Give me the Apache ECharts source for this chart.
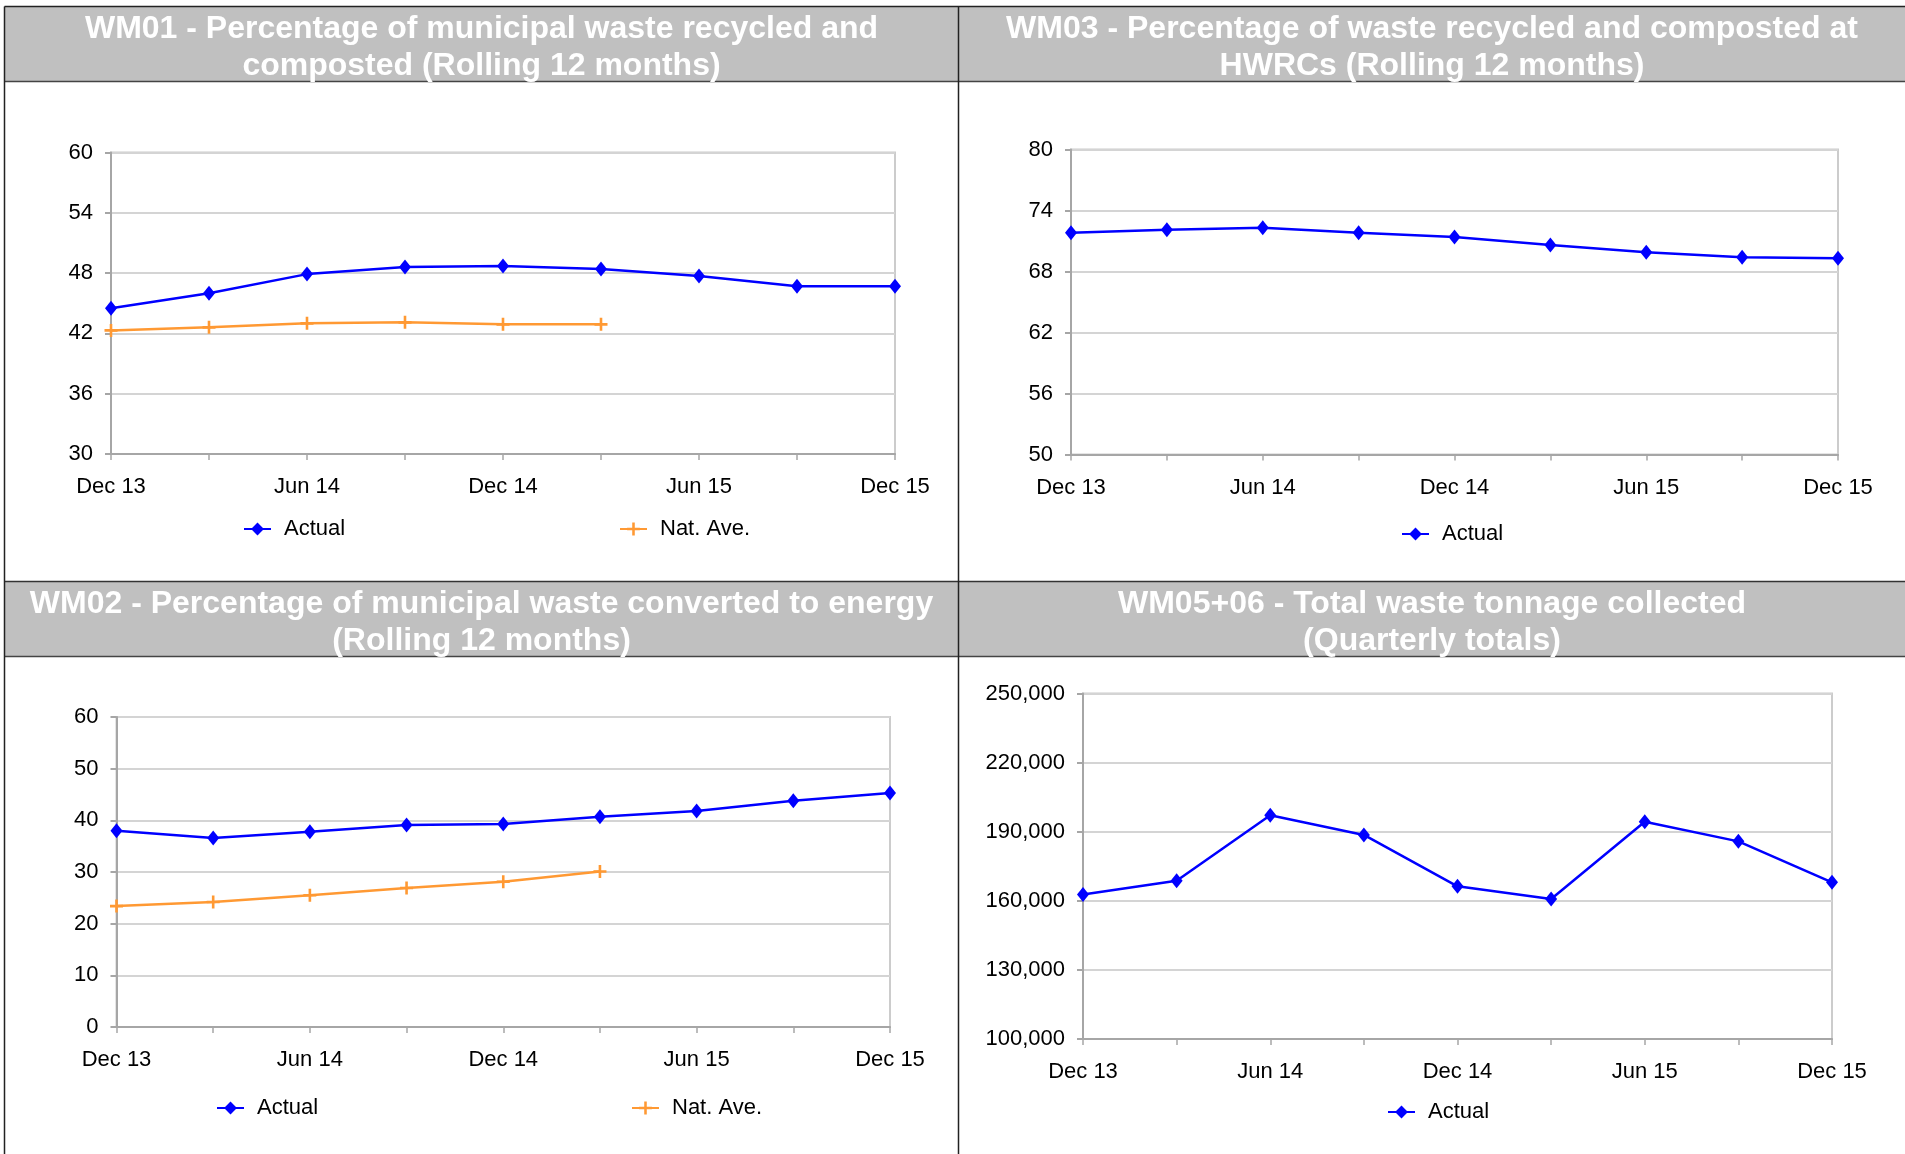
<!DOCTYPE html>
<html>
<head>
<meta charset="utf-8">
<title>Waste performance indicators</title>
<script src="https://cdn.jsdelivr.net/npm/echarts@6/dist/echarts.min.js"></script>
<style>
  html, body { margin: 0; padding: 0; background: #fff; }
  #main { width: 1905px; height: 1154px; }
</style>
</head>
<body>
<div id="main"></div>
<script>
// quarters - only every other one gets printed on the axis
var quarters = ['Dec 13', 'Mar 14', 'Jun 14', 'Sep 14', 'Dec 14', 'Mar 15', 'Jun 15', 'Sep 15', 'Dec 15'];

// WM01 - % recycled and composted (rolling 12 months)
var wm01Actual = [44.5, 46.0, 47.9, 48.6, 48.7, 48.4, 47.7, 46.7, 46.7];
var wm01NatAve = [42.3, 42.6, 43.0, 43.1, 42.9, 42.9];

// WM03 - % recycled and composted at HWRCs
var wm03Actual = [71.8, 72.1, 72.3, 71.8, 71.4, 70.6, 69.9, 69.4, 69.3];

// WM02 - % converted to energy
var wm02Actual = [38.0, 36.6, 37.8, 39.1, 39.3, 40.7, 41.8, 43.8, 45.3];
var wm02NatAve = [23.4, 24.2, 25.5, 26.9, 28.1, 30.1];

// WM05+06 - total tonnage, quarterly
var wm0506Actual = [162700, 168700, 197100, 188600, 166300, 160800, 194300, 185800, 168000];

// y axis ranges [min, max, step]
var wm01Range = [30, 60, 6];
var wm03Range = [50, 80, 6];
var wm02Range = [0, 60, 10];
var wm0506Range = [100000, 250000, 30000];

var FONT = '"Liberation Sans", Arial, sans-serif';
var BLUE = '#0000ff';
var ORANGE = '#ff9933';
var PLUS = 'path://M4,0h2v4h4v2h-4v4h-2v-4h-4v-2h4z';

var chart = echarts.init(document.getElementById('main'));

function makeX(idx) {
  return {
    type: 'category',
    gridIndex: idx,
    data: quarters,
    boundaryGap: false,
    axisLine: { show: true, lineStyle: { color: '#a6a6a6', width: 2 } },
    axisTick: { show: true, interval: 0, length: 6, lineStyle: { color: '#a6a6a6', width: 1.5 } },
    axisLabel: { interval: 1, margin: 22, fontSize: 22, color: '#000', fontFamily: FONT },
    splitLine: { show: false }
  };
}

function makeY(idx, range, fmt) {
  return {
    type: 'value',
    gridIndex: idx,
    min: range[0],
    max: range[1],
    interval: range[2],
    axisLine: { show: true, lineStyle: { color: '#a6a6a6', width: 2 } },
    axisTick: { show: true, length: 6, lineStyle: { color: '#a6a6a6', width: 2 } },
    axisLabel: { margin: 18, fontSize: 22, color: '#000', fontFamily: FONT, formatter: fmt },
    splitLine: { show: true, lineStyle: { color: '#d4d4d4', width: 2 } }
  };
}

function actualLine(idx, data) {
  return {
    name: 'Actual',
    type: 'line',
    xAxisIndex: idx,
    yAxisIndex: idx,
    data: data,
    symbol: 'diamond',
    symbolSize: [12, 15],
    showAllSymbol: true,
    lineStyle: { color: BLUE, width: 2.5 },
    itemStyle: { color: BLUE },
    z: 3
  };
}

function natLine(idx, data) {
  return {
    name: 'Nat. Ave.',
    type: 'line',
    xAxisIndex: idx,
    yAxisIndex: idx,
    data: data,
    symbol: PLUS,
    symbolSize: [13, 13],
    showAllSymbol: true,
    lineStyle: { color: ORANGE, width: 2.5 },
    itemStyle: { color: ORANGE },
    z: 2
  };
}

function legendAt(left, top, name) {
  return {
    left: left,
    top: top,
    padding: 0,
    data: [name],
    itemWidth: 27,
    itemHeight: 16,
    textStyle: { fontSize: 22, color: '#000', fontFamily: FONT, padding: [0, 0, 0, 8] }
  };
}

function thousands(v) {
  return String(v).replace(/\B(?=(\d{3})+(?!\d))/g, ',');
}

// panel frame, grey header bars
function headerText(x, y, txt) {
  return {
    type: 'text',
    x: x,
    y: y,
    z: 10,
    style: {
      text: txt,
      align: 'center',
      verticalAlign: 'middle',
      fill: '#fff',
      font: 'bold 32px ' + FONT,
      lineHeight: 37
    }
  };
}

var frame = [
  { type: 'rect', shape: { x: 4.5, y: 6.5, width: 1905, height: 75 }, style: { fill: '#c0c0c0' } },
  { type: 'rect', shape: { x: 4.5, y: 581.5, width: 1905, height: 75 }, style: { fill: '#c0c0c0' } },
  { type: 'line', shape: { x1: 4.5, y1: 6.5, x2: 1905, y2: 6.5 }, style: { stroke: '#222', lineWidth: 1.5 } },
  { type: 'line', shape: { x1: 4.5, y1: 81.5, x2: 1905, y2: 81.5 }, style: { stroke: '#444', lineWidth: 1.5 } },
  { type: 'line', shape: { x1: 4.5, y1: 581.5, x2: 1905, y2: 581.5 }, style: { stroke: '#333', lineWidth: 1.5 } },
  { type: 'line', shape: { x1: 4.5, y1: 656.5, x2: 1905, y2: 656.5 }, style: { stroke: '#444', lineWidth: 1.5 } },
  { type: 'line', shape: { x1: 4.5, y1: 6.5, x2: 4.5, y2: 1154 }, style: { stroke: '#222', lineWidth: 1.5 } },
  { type: 'line', shape: { x1: 958.5, y1: 6.5, x2: 958.5, y2: 1154 }, style: { stroke: '#222', lineWidth: 1.5 } },
  headerText(481.5, 48, 'WM01 - Percentage of municipal waste recycled and\ncomposted (Rolling 12 months)'),
  headerText(1432, 48, 'WM03 - Percentage of waste recycled and composted at\nHWRCs (Rolling 12 months)'),
  headerText(481.5, 623, 'WM02 - Percentage of municipal waste converted to energy\n(Rolling 12 months)'),
  headerText(1432, 623, 'WM05+06 - Total waste tonnage collected\n(Quarterly totals)')
];

var gridStyle = { show: true, borderColor: '#cccccc', borderWidth: 2, backgroundColor: 'transparent' };

var option = {
  animation: false,
  backgroundColor: '#fff',
  textStyle: { fontFamily: FONT },
  graphic: frame,
  grid: [
    Object.assign({ left: 111, top: 152.5, width: 784, height: 301.5 }, gridStyle),
    Object.assign({ left: 1071, top: 149.5, width: 767, height: 305 }, gridStyle),
    Object.assign({ left: 116.5, top: 717, width: 773.5, height: 310 }, gridStyle),
    Object.assign({ left: 1083, top: 693.5, width: 749, height: 345.5 }, gridStyle)
  ],
  xAxis: [makeX(0), makeX(1), makeX(2), makeX(3)],
  yAxis: [
    makeY(0, wm01Range),
    makeY(1, wm03Range),
    makeY(2, wm02Range),
    makeY(3, wm0506Range, thousands)
  ],
  legend: [
    legendAt(243, 518, 'Actual'),
    legendAt(619, 518, 'Nat. Ave.'),
    legendAt(1401, 523, 'Actual'),
    legendAt(216, 1097, 'Actual'),
    legendAt(631, 1097, 'Nat. Ave.'),
    legendAt(1387, 1101, 'Actual')
  ],
  series: [
    actualLine(0, wm01Actual),
    natLine(0, wm01NatAve),
    actualLine(1, wm03Actual),
    actualLine(2, wm02Actual),
    natLine(2, wm02NatAve),
    actualLine(3, wm0506Actual)
  ]
};

chart.setOption(option);
</script>
</body>
</html>
